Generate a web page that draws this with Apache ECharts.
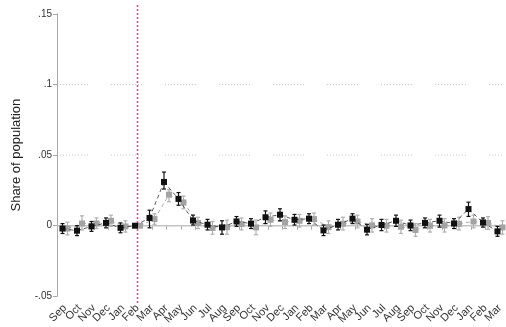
<!DOCTYPE html>
<html>
<head>
<meta charset="utf-8">
<script src="https://cdn.jsdelivr.net/npm/echarts@6/dist/echarts.min.js"></script>
<style>
  html, body { margin: 0; padding: 0; background: #fff; }
  #chart { width: 506px; height: 327px; }
</style>
</head>
<body>
<div id="chart"></div>
<script>
// Monthly categories, Sep through Mar of the third year
const months = ['Sep','Oct','Nov','Dec','Jan','Feb','Mar','Apr','May','Jun','Jul','Aug',
                'Sep','Oct','Nov','Dec','Jan','Feb','Mar','Apr','May','Jun','Jul','Aug',
                'Sep','Oct','Nov','Dec','Jan','Feb','Mar'];

// Black series: point estimate and confidence bounds
const blackVal = [-0.002,-0.0035,-0.0005,0.002,-0.0015,0,0.0055,0.031,0.019,0.0037,0.0007,-0.0012,
                  0.003,0.0015,0.006,0.0078,0.0042,0.005,-0.0033,0.0007,0.005,-0.0028,0.0005,0.0035,
                  0.0002,0.002,0.0035,0.0016,0.0118,0.0023,-0.004];
const blackLo  = [-0.0055,-0.007,-0.004,-0.0015,-0.005,0,-0.0015,0.026,0.0145,0.0005,-0.003,-0.006,
                  -0.0005,-0.002,0.0015,0.0035,0.0005,0.0015,-0.007,-0.003,0.0015,-0.0065,-0.0035,-0.0005,
                  -0.0035,-0.0015,-0.001,-0.002,0.0066,-0.001,-0.0075];
const blackHi  = [0.0015,0,0.003,0.0055,0.002,0,0.011,0.038,0.0235,0.0075,0.0045,0.0035,
                  0.0065,0.005,0.0105,0.012,0.008,0.0085,0.0005,0.0045,0.0085,0.001,0.0045,0.0075,
                  0.004,0.0055,0.0075,0.005,0.0167,0.0055,-0.0005];

// Grey series: point estimate and confidence bounds
const greyVal = [-0.002,0.0016,0.0016,0.0035,-0.0005,0,0.0047,0.022,0.0165,0.002,-0.0016,-0.001,
                 0.0012,-0.0012,0.0042,0.0026,0.0035,0.0047,-0.001,0.0014,0.003,0.0002,0,-0.0007,
                 -0.003,0,0.0002,0.0014,0.003,0.002,-0.0012];
const greyLo  = [-0.0065,-0.003,-0.002,-0.0005,-0.0045,0,0.001,0.017,0.012,-0.002,-0.006,-0.006,
                 -0.003,-0.0064,-0.0005,-0.002,-0.001,0.0005,-0.0055,-0.003,-0.0015,-0.0045,-0.0045,-0.0055,
                 -0.0075,-0.0045,-0.0045,-0.003,-0.0015,-0.0025,-0.006];
const greyHi  = [0.0025,0.007,0.0055,0.0075,0.0035,0,0.0085,0.0255,0.021,0.006,0.003,0.004,
                 0.0055,0.004,0.009,0.007,0.008,0.009,0.0035,0.006,0.0075,0.005,0.0045,0.004,
                 0.0015,0.0045,0.005,0.006,0.0075,0.0065,0.0035];

// Y axis ticks and the ones carrying dotted reference lines
const yTicks = [-0.05, 0, 0.05, 0.1, 0.15];
const yGridLines = [0.05, 0.1];
const eventIndex = 5; // Feb marker

function fmtTick(v) {
  if (v === 0) return '0';
  const s = String(+v.toFixed(2));
  return s.replace('0.', '.');
}

// build a dotted-run dash pattern: short dots in groups separated by a longer gap
const dotRun = [];
for (let k = 0; k < 11; k++) { dotRun.push(1, 2); }
dotRun[dotRun.length - 1] = 23;

function errorSeries(name, vals, lo, hi, dx, fill, barColor, lineColor, z) {
  return {
    type: 'custom',
    name: name,
    coordinateSystem: 'cartesian2d',
    clip: false,
    z: z,
    data: vals.map((v, i) => [i, v, lo[i], hi[i]]),
    renderItem: function (params, api) {
      const i = api.value(0);
      const c = api.coord([i, api.value(1)]); c[0] += dx;
      const l = api.coord([i, api.value(2)]);
      const h = api.coord([i, api.value(3)]);
      const kids = [];
      if (i > 0) {
        const p = api.coord([i - 1, vals[i - 1]]); p[0] += dx;
        kids.push({ type: 'line', z2: 0,
          shape: { x1: p[0], y1: p[1], x2: c[0], y2: c[1] },
          style: { stroke: lineColor, lineWidth: 0.8, lineDash: [4, 3] } });
      }
      if (api.value(3) !== api.value(2)) {
        const cap = 2;
        kids.push({ type: 'line', z2: 1, shape: { x1: c[0], y1: l[1], x2: c[0], y2: h[1] },
          style: { stroke: barColor, lineWidth: 1.2 } });
        kids.push({ type: 'line', z2: 1, shape: { x1: c[0] - cap, y1: l[1], x2: c[0] + cap, y2: l[1] },
          style: { stroke: barColor, lineWidth: 1.2 } });
        kids.push({ type: 'line', z2: 1, shape: { x1: c[0] - cap, y1: h[1], x2: c[0] + cap, y2: h[1] },
          style: { stroke: barColor, lineWidth: 1.2 } });
      }
      const s = 6;
      kids.push({ type: 'rect', z2: 2, shape: { x: c[0] - s / 2, y: c[1] - s / 2, width: s, height: s },
        style: { fill: fill } });
      return { type: 'group', children: kids };
    }
  };
}

// zero line, dotted grid lines and the vertical event marker
const guides = {
  type: 'custom',
  coordinateSystem: 'cartesian2d',
  clip: false,
  z: 1,
  silent: true,
  data: [[0]],
  renderItem: function (params, api) {
    const kids = [];
    const left = api.coord([0, 0])[0] - 8;
    const right = api.coord([months.length - 1, 0])[0] + 2;
    yGridLines.forEach(g => {
      const y = api.coord([0, g])[1];
      kids.push({ type: 'line', shape: { x1: left + 2, y1: y, x2: right, y2: y },
        style: { stroke: '#c8c8c8', lineWidth: 1, lineDash: dotRun, lineDashOffset: 2 } });
    });
    const y0 = api.coord([0, 0])[1];
    kids.push({ type: 'line', shape: { x1: left, y1: y0, x2: right, y2: y0 },
      style: { stroke: '#c4c4c4', lineWidth: 1.6 } });
    const top = api.coord([eventIndex, yTicks[yTicks.length - 1]]);
    const bot = api.coord([eventIndex, yTicks[0]]);
    kids.push({ type: 'line', shape: { x1: top[0], y1: top[1] - 9, x2: bot[0], y2: bot[1] + 7 },
      style: { stroke: '#dc4f96', lineWidth: 1.6, lineDash: [2, 2] } });
    return { type: 'group', children: kids };
  }
};

const chart = echarts.init(document.getElementById('chart'), null, { renderer: 'canvas' });
chart.setOption({
  animation: false,
  backgroundColor: '#ffffff',
  textStyle: { fontFamily: 'Liberation Sans, Arial, sans-serif' },
  grid: { left: 65, right: 4, top: 14, bottom: 30 },
  xAxis: {
    type: 'category',
    data: months,
    boundaryGap: false,
    offset: 7,
    axisLine: { show: true, lineStyle: { color: '#a8a8a8', width: 1 } },
    axisTick: { show: true, length: 4, alignWithLabel: true, lineStyle: { color: '#a8a8a8' } },
    axisLabel: { rotate: 45, fontSize: 11, color: '#333', margin: 3, interval: 0 },
    splitLine: { show: false }
  },
  yAxis: {
    type: 'value',
    min: yTicks[0],
    max: yTicks[yTicks.length - 1],
    interval: 0.05,
    offset: 8,
    name: 'Share of population',
    nameLocation: 'middle',
    nameGap: 34,
    nameTextStyle: { fontSize: 13, color: '#222' },
    axisLine: { show: true, lineStyle: { color: '#a8a8a8', width: 1 } },
    axisTick: { show: true, length: 4, lineStyle: { color: '#a8a8a8' } },
    axisLabel: { fontSize: 10, color: '#333', margin: 5, formatter: fmtTick },
    splitLine: { show: false }
  },
  series: [
    guides,
    errorSeries('Grey', greyVal, greyLo, greyHi, 2.5, '#a3a3a3', '#b0b0b0', '#9a9a9a', 2),
    errorSeries('Black', blackVal, blackLo, blackHi, -2.5, '#111111', '#111111', '#333333', 3)
  ]
});
</script>
</body>
</html>
